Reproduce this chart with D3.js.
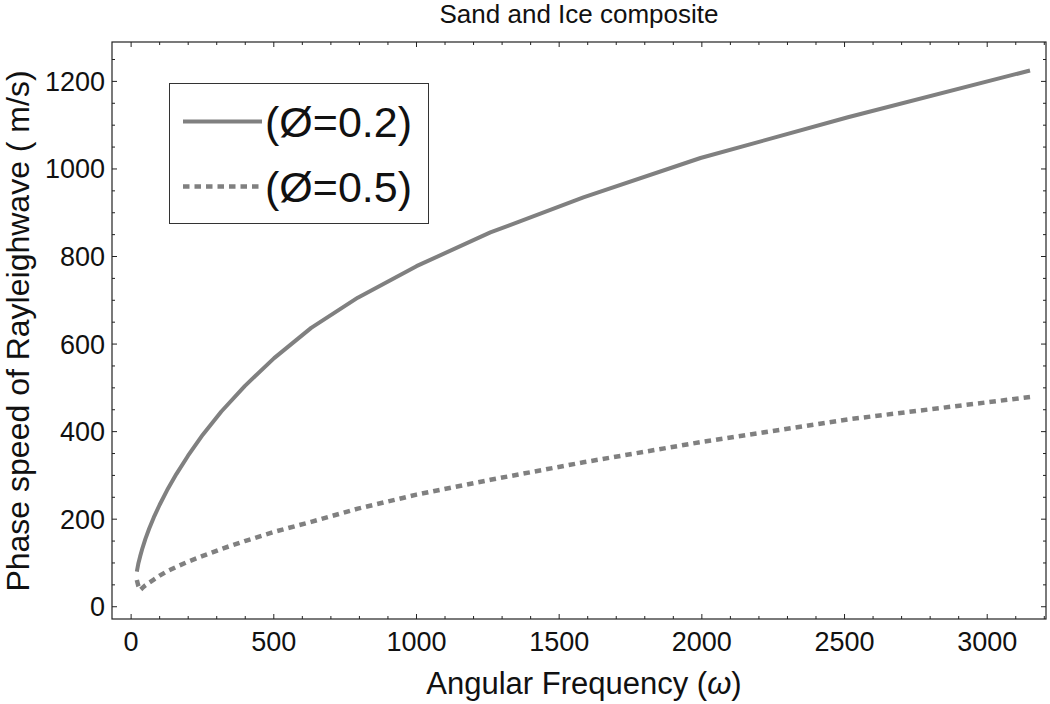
<!DOCTYPE html>
<html>
<head>
<meta charset="utf-8">
<script src="https://cdn.jsdelivr.net/npm/d3@7"></script>
<style>
  body { margin: 0; background: #fff; }
  svg { font-family: "Liberation Sans", Arial, sans-serif; }
</style>
</head>
<body>
<svg id="chart"></svg>
<script>
var width = 1050, height = 704;

// data
var omega = [20, 25.1, 31.6, 39.8, 50.1, 63.1, 79.4, 100, 125.9, 158.5, 199.5, 251.2, 316.2, 398.1, 501.2, 631, 794.3, 1000, 1258.9, 1584.9, 1995.3, 2511.9, 3150];
var speedPhi02 = [80, 98, 115, 134, 155, 178, 204, 233, 266, 303, 345, 393, 446, 504, 568, 637, 706, 778, 855, 935, 1025, 1118, 1225];
var speedPhi05 = [61, 48, 38, 43, 49, 55, 62, 71, 81, 91, 103, 116, 132, 150, 171, 194, 224, 256, 290, 330, 376, 428, 479];

var seriesNames = ['(\u00D8=0.2)', '(\u00D8=0.5)'];
var xTicks = [0, 500, 1000, 1500, 2000, 2500, 3000];
var yTicks = [0, 200, 400, 600, 800, 1000, 1200];

var frame = { left: 112, right: 1046, top: 42, bottom: 619 };

var svg = d3.select('#chart')
    .attr('width', width)
    .attr('height', height)
    .attr('viewBox', `0 0 ${width} ${height}`);

var x = d3.scaleLinear().domain([-67, 3206]).range([frame.left, frame.right]);
var y = d3.scaleLinear().domain([-28, 1290]).range([frame.bottom, frame.top]);

var grey = '#808080';

// curves
var line = d3.line()
    .x(d => x(d[0]))
    .y(d => y(d[1]));

var data02 = omega.map((w, i) => [w, speedPhi02[i]]);
var data05 = omega.map((w, i) => [w, speedPhi05[i]]);

svg.append('path')
    .datum(data02)
    .attr('d', line)
    .attr('fill', 'none')
    .attr('stroke', grey)
    .attr('stroke-width', 4)
    .attr('stroke-linejoin', 'round');

svg.append('path')
    .datum(data05)
    .attr('d', line)
    .attr('fill', 'none')
    .attr('stroke', grey)
    .attr('stroke-width', 4.5)
    .attr('stroke-dasharray', '6.5,5');

// frame
svg.append('rect')
    .attr('x', frame.left)
    .attr('y', frame.top)
    .attr('width', frame.right - frame.left)
    .attr('height', frame.bottom - frame.top)
    .attr('fill', 'none')
    .attr('stroke', '#222')
    .attr('stroke-width', 1.2);

// ticks, pointing inward on all four sides
var xMinor = d3.range(0, 3201, 100).filter(v => xTicks.indexOf(v) < 0);
var yMinor = d3.range(0, 1290, 50).filter(v => yTicks.indexOf(v) < 0);

var ticks = svg.append('g').attr('stroke', '#222').attr('stroke-width', 1);

function drawXTicks(values, len) {
    values.forEach(v => {
        ticks.append('line').attr('x1', x(v)).attr('x2', x(v))
            .attr('y1', frame.bottom).attr('y2', frame.bottom - len);
        ticks.append('line').attr('x1', x(v)).attr('x2', x(v))
            .attr('y1', frame.top).attr('y2', frame.top + len);
    });
}
function drawYTicks(values, len) {
    values.forEach(v => {
        ticks.append('line').attr('y1', y(v)).attr('y2', y(v))
            .attr('x1', frame.left).attr('x2', frame.left + len);
        ticks.append('line').attr('y1', y(v)).attr('y2', y(v))
            .attr('x1', frame.right).attr('x2', frame.right - len);
    });
}
drawXTicks(xTicks, 5);
drawXTicks(xMinor, 3);
drawYTicks(yTicks, 5);
drawYTicks(yMinor, 3);

// tick labels
svg.append('g')
    .selectAll('text')
    .data(xTicks)
    .join('text')
    .attr('x', d => x(d))
    .attr('y', 651)
    .attr('text-anchor', 'middle')
    .attr('font-size', 27)
    .attr('fill', '#111')
    .text(d => d);

svg.append('g')
    .selectAll('text')
    .data(yTicks)
    .join('text')
    .attr('x', 105)
    .attr('y', d => y(d))
    .attr('dy', '0.35em')
    .attr('text-anchor', 'end')
    .attr('font-size', 27)
    .attr('fill', '#111')
    .text(d => d);

// title and axis labels
svg.append('text')
    .attr('x', (frame.left + frame.right) / 2)
    .attr('y', 23)
    .attr('text-anchor', 'middle')
    .attr('font-size', 26)
    .attr('fill', '#111')
    .text('Sand and Ice composite');

var xLabel = svg.append('text')
    .attr('x', 584)
    .attr('y', 694)
    .attr('text-anchor', 'middle')
    .attr('font-size', 31)
    .attr('fill', '#111');
xLabel.append('tspan').text('Angular Frequency (');
xLabel.append('tspan').attr('font-style', 'italic').text('\u03C9');
xLabel.append('tspan').text(')');

svg.append('text')
    .attr('transform', 'translate(29, 331) rotate(-90)')
    .attr('text-anchor', 'middle')
    .attr('font-size', 32)
    .attr('fill', '#111')
    .text('Phase speed of Rayleighwave ( m/s)');

// legend
var legend = svg.append('g');
legend.append('rect')
    .attr('x', 169.5)
    .attr('y', 83.5)
    .attr('width', 259)
    .attr('height', 140)
    .attr('fill', '#fff')
    .attr('stroke', '#333')
    .attr('stroke-width', 1);

var legendY = [121.5, 186.5];
legendY.forEach((ly, i) => {
    legend.append('line')
        .attr('x1', 183).attr('x2', 262)
        .attr('y1', ly).attr('y2', ly)
        .attr('stroke', grey)
        .attr('stroke-width', i == 0 ? 4 : 4.5)
        .attr('stroke-dasharray', i == 0 ? null : '6.5,5');
    legend.append('text')
        .attr('x', 265)
        .attr('y', ly)
        .attr('dy', '0.36em')
        .attr('font-size', 43)
        .attr('fill', '#111')
        .text(seriesNames[i]);
});
</script>
</body>
</html>
